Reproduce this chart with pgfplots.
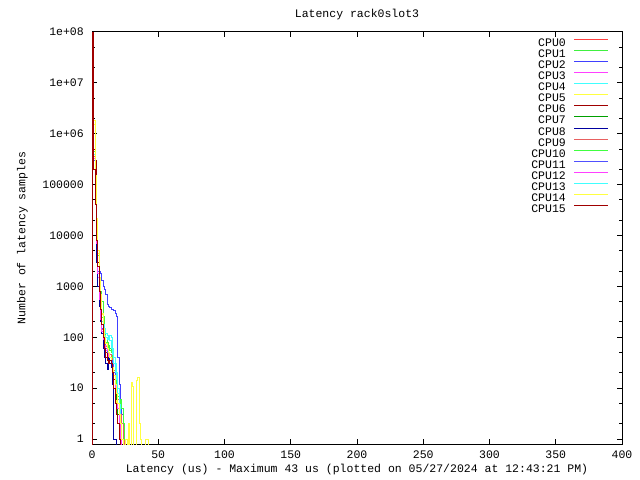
\documentclass[border=0pt]{standalone}
\usepackage{fontspec}
\setmainfont{Liberation Mono}
\usepackage{pgfplots}
\pgfplotsset{compat=1.18}

\definecolor{c0}{HTML}{FF4040}
\definecolor{c1}{HTML}{40F040}
\definecolor{c2}{HTML}{4040FF}
\definecolor{c3}{HTML}{FF40FF}
\definecolor{c4}{HTML}{40FFFF}
\definecolor{c5}{HTML}{FFFF40}
\definecolor{c6}{HTML}{A00000}
\definecolor{c7}{HTML}{00A000}
\definecolor{c8}{HTML}{0000A0}
\definecolor{c9}{HTML}{E86060}
\definecolor{c10}{HTML}{40FF40}
\definecolor{c11}{HTML}{5050FF}
\definecolor{c12}{HTML}{FF40FF}
\definecolor{c13}{HTML}{40FFFF}
\definecolor{c14}{HTML}{FFFF40}
\definecolor{c15}{HTML}{A00000}

\begin{document}
\fontsize{11.5bp}{13bp}\selectfont
\begin{tikzpicture}
\useasboundingbox (0,0) rectangle (640bp,480bp);
\begin{axis}[
    at={(92bp,36bp)}, anchor=south west,
    scale only axis, width=530bp, height=412bp,
    xmin=0, xmax=400, ymin=0.8, ymax=1e8,
    ymode=log,
    xtick={0,50,...,400},
    ytick={1,10,100,1000,10000,100000,1e6,1e7,1e8},
    yticklabels={1,10,100,1000,10000,100000,1e+06,1e+07,1e+08},
    minor ytick={2,5,20,50,200,500,2000,5000,2e4,5e4,2e5,5e5,2e6,5e6,2e7,5e7},
    tick align=inside,
    major tick length=5bp, minor tick length=3bp,
    every tick/.append style={black, line width=1bp},
    axis line style={line width=1bp},
    /pgf/number format/assume math mode=true,
    xticklabel style={inner sep=0pt, yshift=-7bp},
    yticklabel style={inner sep=0pt, xshift=-8bp},
    xlabel={Latency (us) - Maximum 43 us (plotted on 05/27/2024 at 12:43:21 PM)},
    xlabel style={at={(axis description cs:0.5,-0.0631)}, anchor=center, inner sep=0pt},
    ylabel={Number of latency samples},
    ylabel style={at={(axis description cs:-0.1311,0.5)}, anchor=center, inner sep=0pt},
    no marks,
    every axis plot/.append style={line width=1bp, const plot},
    legend cell align=right,
    legend plot pos=right,
    legend image code/.code={\draw[#1] (0bp,3.5bp) -- (34bp,3.5bp);},
    legend style={at={(axis description cs:0.9755,0.9842)}, anchor=north east,
        draw=none, fill=none, inner sep=0pt, row sep=3.6bp, column sep=8bp,
        nodes={inner sep=0pt, text height=7bp, text depth=0pt}},
]
% CPU0
\addplot[c0] coordinates {(0,0.5)(0.5,4.5e7)(1.5,4e5)(2.5,6e4)(3.5,9000)(4.5,2500)(5.5,800)(6.5,300)(7.5,150)(8.5,90)(9.5,70)(10.5,60)(11.5,55)(12.5,45)(13.5,40)(14.5,35)(15.5,30)(16.5,20)(17.5,12)(18.5,8)(19.5,5)(20.5,3)(21.5,2)(22.5,1)(23.5,2)(24.5,1)(25.5,0.5)};
% CPU1
\addplot[c1] coordinates {(0,0.5)(0.5,3.6e7)(1.5,5e5)(2.5,8e4)(3.5,2e4)(4.5,5000)(5.5,1000)(6.5,800)(7.5,500)(8.5,260)(9.5,150)(10.5,100)(11.5,80)(12.5,70)(13.5,60)(14.5,50)(15.5,40)(16.5,30)(17.5,20)(18.5,12)(19.5,8)(20.5,6)(21.5,5)(22.5,4)(23.5,2)(24.5,1)(25.5,0.5)};
% CPU2
\addplot[c2] coordinates {(0,0.5)(0.5,5e7)(1.5,3e5)(2.5,5e4)(3.5,1e4)(4.5,3000)(5.5,2000)(6.5,1800)(7.5,1300)(8.5,1000)(9.5,870)(10.5,700)(11.5,450)(12.5,400)(13.5,380)(14.5,350)(15.5,350)(16.5,330)(17.5,300)(18.5,260)(19.5,40)(20.5,12)(21.5,5)(22.5,3)(23.5,2)(24.5,1)(25.5,0.5)(26.5,1)(27.5,0.5)};
% CPU3
\addplot[c3] coordinates {(0,0.5)(0.5,4e7)(1.5,3e5)(2.5,4e4)(3.5,6000)(4.5,1500)(5.5,500)(6.5,200)(7.5,120)(8.5,80)(9.5,70)(10.5,60)(11.5,50)(12.5,40)(13.5,35)(14.5,30)(15.5,25)(16.5,15)(17.5,8)(18.5,6)(19.5,3)(20.5,1)(21.5,0.5)};
% CPU4
\addplot[c4] coordinates {(0,0.5)(0.5,3e7)(1.5,5e5)(2.5,9e4)(3.5,1.2e4)(4.5,3000)(5.5,900)(6.5,400)(7.5,250)(8.5,180)(9.5,150)(10.5,120)(11.5,110)(12.5,100)(13.5,110)(14.5,100)(15.5,60)(16.5,40)(17.5,30)(18.5,20)(19.5,10)(20.5,5)(21.5,3)(22.5,2)(23.5,1)(24.5,0.5)};
% CPU5
\addplot[c5] coordinates {(0,0.5)(0.5,2e7)(1.5,1.8e6)(2.5,2e5)(3.5,2.2e4)(4.5,5000)(5.5,1500)(6.5,700)(7.5,300)(8.5,150)(9.5,100)(10.5,70)(11.5,60)(12.5,50)(13.5,40)(14.5,30)(15.5,25)(16.5,20)(17.5,10)(18.5,5)(19.5,3)(20.5,2)(21.5,1)(22.5,1)(23.5,0.5)};
% CPU6
\addplot[c6] coordinates {(0,9e7)(0.5,1.7e6)(1.5,5e5)(2.5,3e5)(3.5,6000)(4.5,3000)(5.5,900)(6.5,400)(7.5,200)(8.5,120)(9.5,80)(10.5,50)(11.5,40)(12.5,30)(13.5,30)(14.5,25)(15.5,20)(16.5,15)(17.5,10)(18.5,6)(19.5,3)(20.5,2)(21.5,1)(22.5,0.5)};
% CPU7
\addplot[c7] coordinates {(0,0.5)(0.5,3.8e7)(1.5,4e5)(2.5,6e4)(3.5,1e4)(4.5,2000)(5.5,600)(6.5,250)(7.5,130)(8.5,90)(9.5,70)(10.5,60)(11.5,50)(12.5,45)(13.5,40)(14.5,35)(15.5,30)(16.5,20)(17.5,10)(18.5,6)(19.5,3)(20.5,2)(21.5,1)(22.5,0.5)};
% CPU8
\addplot[c8] coordinates {(0,0.5)(0.5,5e7)(1.5,2e5)(2.5,7e4)(3.5,3000)(4.5,1000)(5.5,400)(6.5,200)(7.5,120)(8.5,60)(9.5,40)(10.5,30)(11.5,23)(12.5,40)(13.5,30)(14.5,25)(15.5,12)(16.5,1)(17.5,1)(18.5,0.5)};
% CPU9
\addplot[c9] coordinates {(0,0.5)(0.5,4e7)(1.5,3.5e5)(2.5,5e4)(3.5,7000)(4.5,2000)(5.5,600)(6.5,250)(7.5,140)(8.5,100)(9.5,80)(10.5,65)(11.5,55)(12.5,50)(13.5,45)(14.5,40)(15.5,30)(16.5,22)(17.5,15)(18.5,10)(19.5,6)(20.5,4)(21.5,3)(22.5,2)(23.5,1)(24.5,0.5)};
% CPU10
\addplot[c10] coordinates {(0,0.5)(0.5,3.5e7)(1.5,4.5e5)(2.5,7e4)(3.5,1.5e4)(4.5,4000)(5.5,1200)(6.5,500)(7.5,250)(8.5,150)(9.5,100)(10.5,80)(11.5,70)(12.5,60)(13.5,55)(14.5,50)(15.5,40)(16.5,30)(17.5,20)(18.5,10)(19.5,7)(20.5,5)(21.5,6)(22.5,4)(23.5,2)(24.5,1)(25.5,0.5)};
% CPU11
\addplot[c11] coordinates {(0,0.5)(0.5,4.5e7)(1.5,3e5)(2.5,5e4)(3.5,8000)(4.5,2000)(5.5,700)(6.5,300)(7.5,150)(8.5,100)(9.5,80)(10.5,60)(11.5,50)(12.5,45)(13.5,40)(14.5,35)(15.5,30)(16.5,20)(17.5,12)(18.5,8)(19.5,4)(20.5,2)(21.5,1)(22.5,0.5)};
% CPU12
\addplot[c12] coordinates {(0,0.5)(0.5,3.8e7)(1.5,3.2e5)(2.5,4.5e4)(3.5,7000)(4.5,1800)(5.5,550)(6.5,220)(7.5,130)(8.5,90)(9.5,70)(10.5,55)(11.5,60)(12.5,45)(13.5,40)(14.5,30)(15.5,25)(16.5,18)(17.5,10)(18.5,8)(19.5,4)(20.5,2)(21.5,1)(22.5,0.5)};
% CPU13
\addplot[c13] coordinates {(0,0.5)(0.5,3e7)(1.5,4e5)(2.5,7e4)(3.5,1e4)(4.5,2500)(5.5,800)(6.5,350)(7.5,200)(8.5,140)(9.5,110)(10.5,100)(11.5,90)(12.5,95)(13.5,85)(14.5,60)(15.5,45)(16.5,30)(17.5,20)(18.5,15)(19.5,8)(20.5,4)(21.5,2)(22.5,1)(23.5,0.5)};
% CPU14
\addplot[c14] coordinates {(0,0.5)(0.5,2.2e7)(1.5,1.5e6)(2.5,1.5e5)(3.5,2e4)(4.5,4500)(5.5,1300)(6.5,600)(7.5,280)(8.5,150)(9.5,100)(10.5,75)(11.5,60)(12.5,50)(13.5,40)(14.5,30)(15.5,25)(16.5,18)(17.5,12)(18.5,8)(19.5,5)(20.5,3)(21.5,2)(22.5,1)(23.5,0.5)(25.5,1)(26.5,0.5)(27.5,2)(28.5,0.5)(29.5,13)(30.5,11)(31.5,0.5)(33.5,14)(34.5,16)(35.5,2)(36.5,1)(37.5,0.5)(40.5,1)(42.5,0.5)};
% CPU15
\addplot[c15] coordinates {(0,0.5)(0.5,9.8e7)(1.5,2e5)(2.5,4e4)(3.5,8000)(4.5,2500)(5.5,800)(6.5,350)(7.5,180)(8.5,100)(9.5,60)(10.5,40)(11.5,35)(12.5,30)(13.5,35)(14.5,30)(15.5,20)(16.5,10)(17.5,5)(18.5,3)(19.5,2)(20.5,1)(21.5,0.5)};
\legend{CPU0,CPU1,CPU2,CPU3,CPU4,CPU5,CPU6,CPU7,CPU8,CPU9,CPU10,CPU11,CPU12,CPU13,CPU14,CPU15}
\end{axis}
\node[inner sep=0pt, anchor=center] at (357bp,465bp) {Latency rack0slot3};
\end{tikzpicture}
\end{document}
